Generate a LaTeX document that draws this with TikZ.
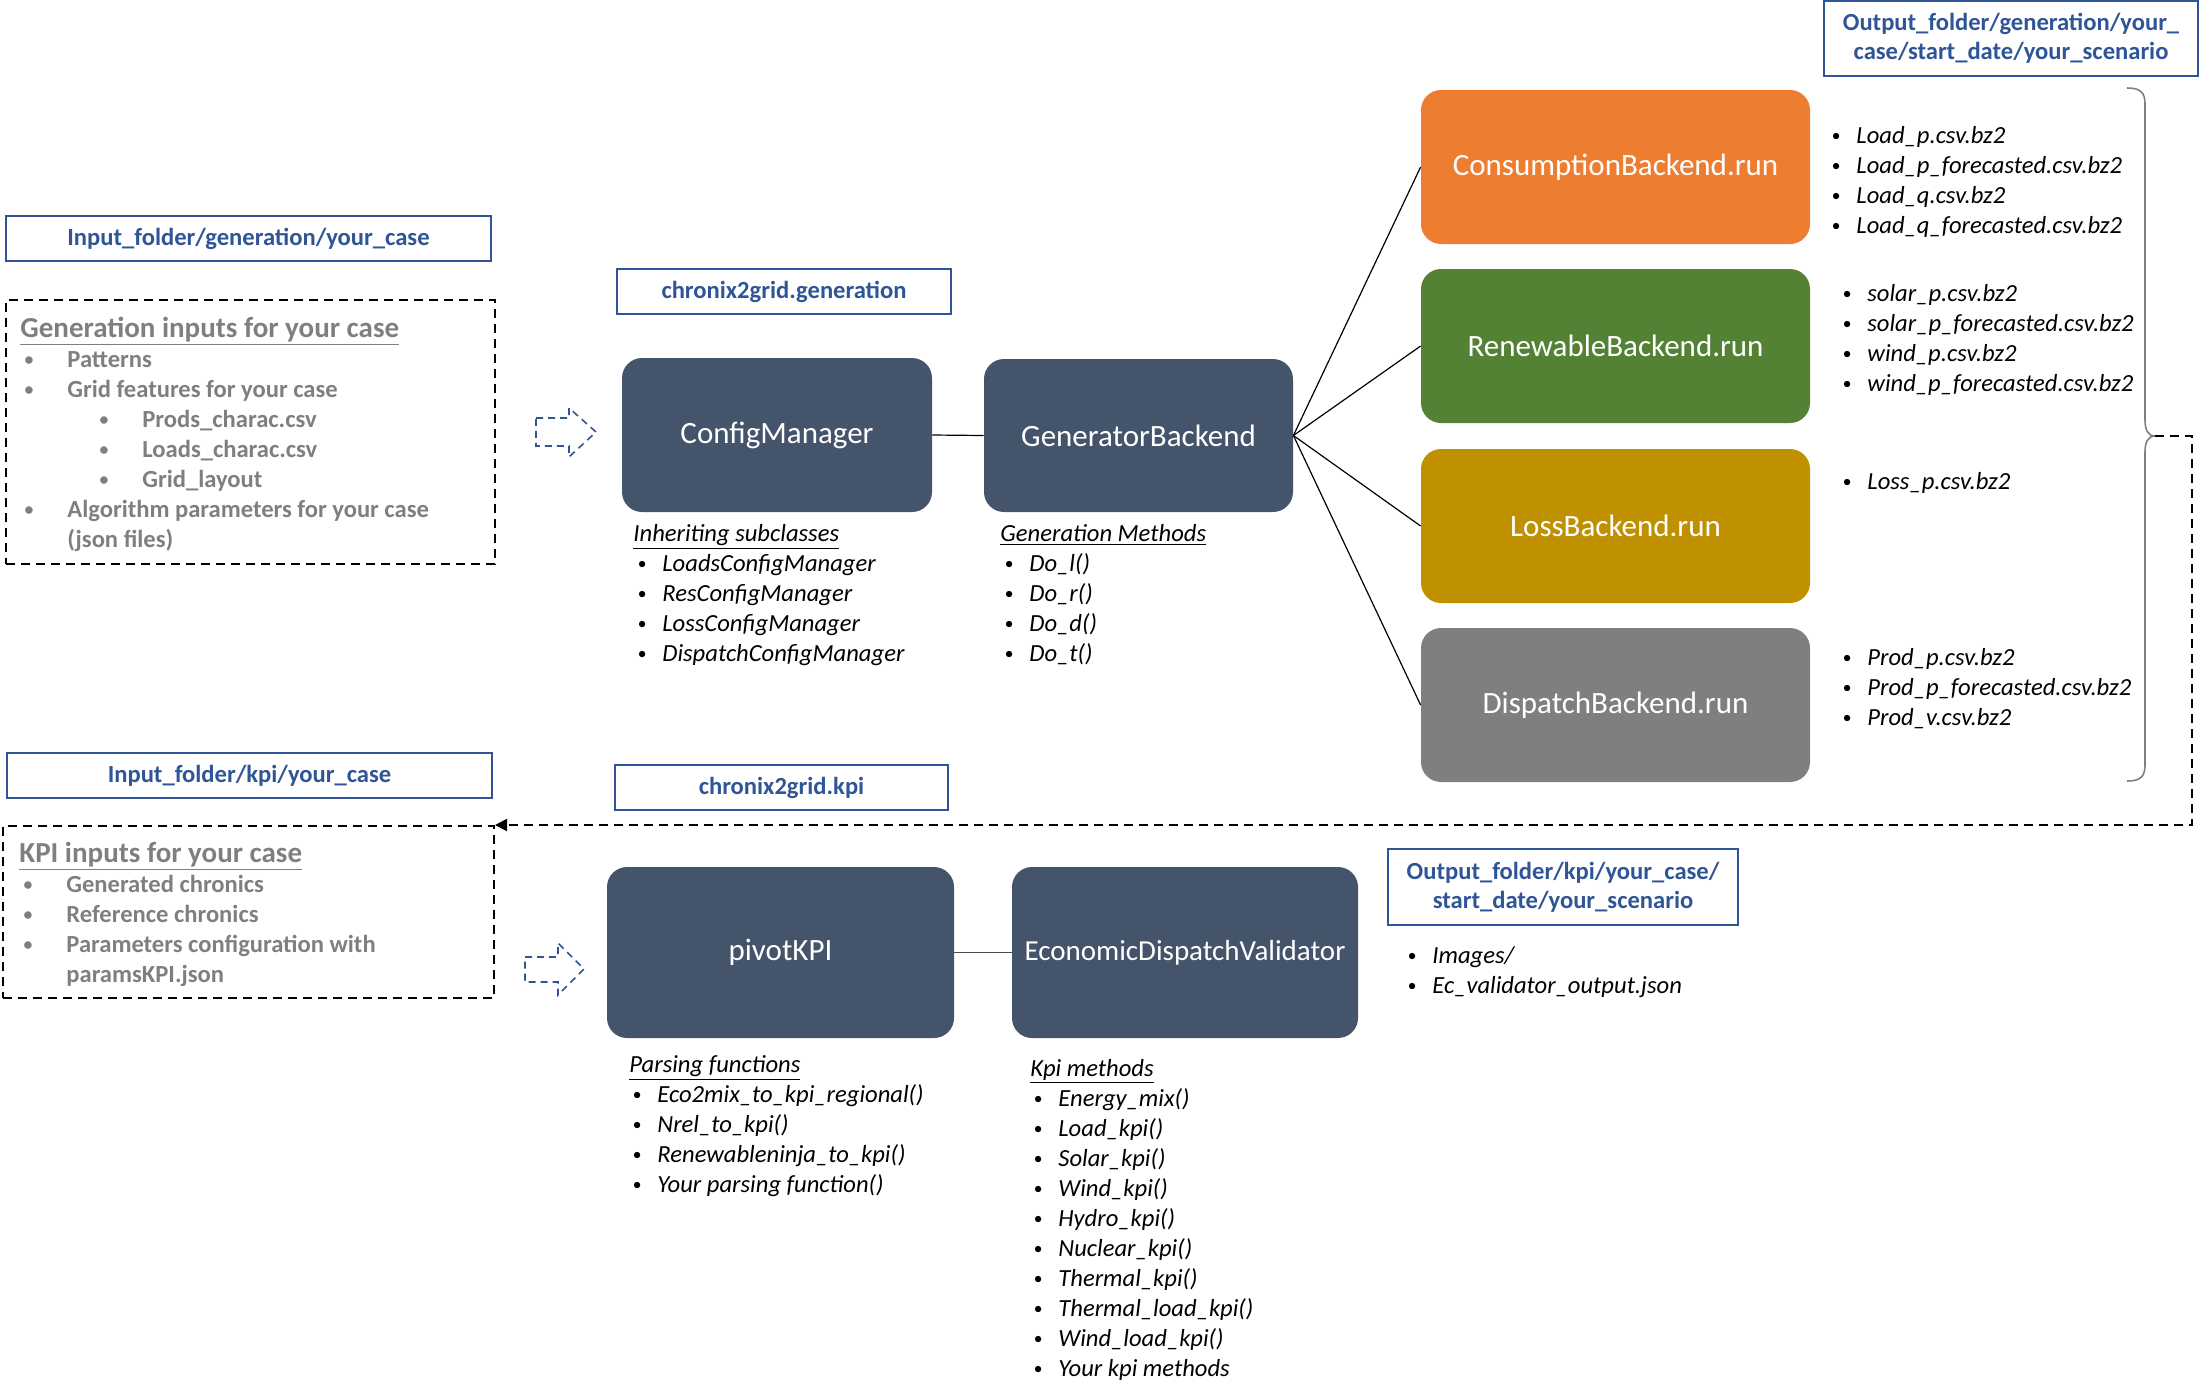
\documentclass[tikz,border=0pt]{standalone}
\usepackage{fontspec}
\usepackage{graphicx}
\setmainfont{Carlito}
\usetikzlibrary{arrows.meta}
\definecolor{slate}{HTML}{44546A}
\definecolor{cblue}{HTML}{2F5597}
\definecolor{corange}{HTML}{ED7D31}
\definecolor{cgreen}{HTML}{548235}
\definecolor{cgold}{HTML}{BF9000}
\definecolor{cgraybox}{HTML}{7F7F7F}
\definecolor{cgray}{HTML}{7F7F7F}
\definecolor{cbrace}{HTML}{7F7F7F}
\newcommand\bu[1][8pt]{\llap{\raisebox{0.12ex}{\scalebox{0.72}{\textbullet}}\hspace{#1}}}
\begin{document}
\begin{tikzpicture}[x=0.5pt,y=-0.5pt,
  bluebox/.style={draw=cblue, line width=1.2pt, text=cblue, font=\bfseries\fontsize{12.3}{14.5}\selectfont, inner sep=0pt, align=center},
  dbox/.style={draw=black, line width=1pt, dash pattern=on 4.5pt off 3pt, inner sep=0pt},
  bigbox/.style={rounded corners=10pt, text=white, font=\fontsize{15.5}{18}\selectfont, inner sep=0pt},
  lst/.style={anchor=base west, inner sep=0pt, font=\itshape\fontsize{12.3}{15}\selectfont},
  glst/.style={anchor=base west, inner sep=0pt, text=cgray, font=\bfseries\fontsize{12.3}{15}\selectfont},
  ghead/.style={anchor=base west, inner sep=0pt, text=cgray, font=\bfseries\fontsize{14.5}{17}\selectfont},
  conn/.style={line width=0.6pt},
  barrow/.style={draw=cblue, line width=0.8pt, dash pattern=on 3.5pt off 2.5pt}
]
\useasboundingbox (0,0) rectangle (2200,1399);

% ---------- generation part ----------
\node[bluebox, minimum width=242.5pt, minimum height=22.5pt] (inGen) at (248.5,238.5) {Input\_folder/generation/your\_case};
\node[dbox, minimum width=244.5pt, minimum height=132pt] (genIn) at (250.5,432) {};
\node[ghead] (gh) at (20,337.5) {\underline{Generation inputs for your case}};
\node[glst] (g1) at (67,367) {\bu[17pt]Patterns};
\node[glst] (g2) at (67,397) {\bu[17pt]Grid features for your case};
\node[glst] (g3) at (142,427) {\bu[17pt]Prods\_charac.csv};
\node[glst] (g4) at (142,457) {\bu[17pt]Loads\_charac.csv};
\node[glst] (g5) at (142,487) {\bu[17pt]Grid\_layout};
\node[glst] (g6) at (67,517) {\bu[17pt]Algorithm parameters for your case};
\node[glst] (g7) at (67,547) {(json files)};

\draw[barrow] (536,418) -- (569,418) -- (569,408) -- (596,432) -- (569,457) -- (569,446) -- (536,446) -- cycle;

\node[bluebox, minimum width=167pt, minimum height=22.5pt] (chronGen) at (784,291.5) {chronix2grid.generation};
\node[bigbox, fill=slate, minimum width=155pt, minimum height=77pt] (cfg) at (777,435) {ConfigManager};
\node[bigbox, fill=slate, minimum width=154.5pt, minimum height=76.5pt] (gb) at (1138.5,435.5) {GeneratorBackend};
\draw[conn] (cfg.east) -- (gb.west);

\node[lst] (inh) at (633,541) {\underline{Inheriting subclasses}};
\foreach \t [count=\i from 0] in {LoadsConfigManager, ResConfigManager, LossConfigManager, DispatchConfigManager}
  \node[lst] (inh\i) at (662,{571+30*\i}) {\bu\t};
\node[lst] (gm) at (1000,541) {\underline{Generation Methods}};
\foreach \t [count=\i from 0] in {Do\_l(), Do\_r(), Do\_d(), Do\_t()}
  \node[lst] (gm\i) at (1029,{571+30*\i}) {\bu\t};

\node[bigbox, fill=corange, minimum width=194.5pt, minimum height=77pt] (cons) at (1615.5,167) {ConsumptionBackend.run};
\node[bigbox, fill=cgreen, minimum width=194.5pt, minimum height=77pt] (ren) at (1615.5,346) {RenewableBackend.run};
\node[bigbox, fill=cgold, minimum width=194.5pt, minimum height=77pt] (loss) at (1615.5,526) {LossBackend.run};
\node[bigbox, fill=cgraybox, minimum width=194.5pt, minimum height=77pt] (disp) at (1615.5,705) {DispatchBackend.run};
\foreach \b in {cons,ren,loss,disp}
  \draw[conn] (gb.east) -- (\b.west);

\node[bluebox, minimum width=187pt, minimum height=37.5pt] (outGen) at (2011,38.5) {Output\_folder/generation/your\_\\case/start\_date/your\_scenario};

\foreach \t [count=\i from 0] in {Load\_p.csv.bz2, Load\_p\_forecasted.csv.bz2, Load\_q.csv.bz2, Load\_q\_forecasted.csv.bz2}
  \node[lst] (lo\i) at (1856,{143+30*\i}) {\bu\t};
\foreach \t [count=\i from 0] in {solar\_p.csv.bz2, solar\_p\_forecasted.csv.bz2, wind\_p.csv.bz2, wind\_p\_forecasted.csv.bz2}
  \node[lst] (re\i) at (1867,{301+30*\i}) {\bu\t};
\node[lst] (ls0) at (1867,489) {\bu Loss\_p.csv.bz2};
\foreach \t [count=\i from 0] in {Prod\_p.csv.bz2, Prod\_p\_forecasted.csv.bz2, Prod\_v.csv.bz2}
  \node[lst] (pr\i) at (1867,{665+30*\i}) {\bu\t};

% brace
\draw[cbrace, line width=0.8pt] (2127,88) .. controls (2140,88) and (2145,92) .. (2145,104) -- (2145,420) .. controls (2145,430) and (2148,436) .. (2155,436) .. controls (2148,436) and (2145,442) .. (2145,452) -- (2145,765) .. controls (2145,777) and (2140,781) .. (2127,781);
\coordinate (braceTip) at (2155,436);

% ---------- kpi part ----------
\node[bluebox, minimum width=242.5pt, minimum height=22.5pt] (inKpi) at (249.5,775.5) {Input\_folder/kpi/your\_case};
\node[bluebox, minimum width=166.5pt, minimum height=22.5pt] (chronKpi) at (781.5,787.5) {chronix2grid.kpi};
\node[dbox, minimum width=245.5pt, minimum height=86pt] (kpiIn) at (248.5,912) {};
\node[ghead] (kh) at (19,862) {\underline{KPI inputs for your case}};
\node[glst] (k1) at (66,892) {\bu[17pt]Generated chronics};
\node[glst] (k2) at (66,922) {\bu[17pt]Reference chronics};
\node[glst] (k3) at (66,952) {\bu[17pt]Parameters configuration with};
\node[glst] (k4) at (66,982) {paramsKPI.json};

\draw[line width=1pt, dash pattern=on 4.5pt off 3pt, -{Triangle[length=6pt,width=6pt]}] (braceTip) -- (2192,436) |- (kpiIn.north east);

\draw[barrow] (525,957) -- (558,957) -- (558,943) -- (584,969) -- (558,995) -- (558,982) -- (525,982) -- cycle;

\node[bigbox, fill=slate, minimum width=173.5pt, minimum height=85.5pt] (pivot) at (780.5,952.5) {pivotKPI};
\node[bigbox, fill=slate, minimum width=173pt, minimum height=85.5pt, font=\fontsize{14.5}{17}\selectfont] (edv) at (1185,952.5) {EconomicDispatchValidator};
\draw[conn, draw=black!70] (pivot.east) -- (edv.west);

\node[bluebox, minimum width=175pt, minimum height=38pt] (outKpi) at (1563,887) {Output\_folder/kpi/your\_case/\\start\_date/your\_scenario};
\node[lst] (ok0) at (1432,963) {\bu Images/};
\node[lst] (ok1) at (1432,993) {\bu Ec\_validator\_output.json};

\node[lst] (pf) at (629,1072) {\underline{Parsing functions}};
\foreach \t [count=\i from 0] in {Eco2mix\_to\_kpi\_regional(), Nrel\_to\_kpi(), Renewableninja\_to\_kpi(), Your parsing function()}
  \node[lst] (pf\i) at (657,{1102+30*\i}) {\bu\t};
\node[lst] (km) at (1030,1076) {\underline{Kpi methods}};
\foreach \t [count=\i from 0] in {Energy\_mix(), Load\_kpi(), Solar\_kpi(), Wind\_kpi(), Hydro\_kpi(), Nuclear\_kpi(), Thermal\_kpi(), Thermal\_load\_kpi(), Wind\_load\_kpi(), Your kpi methods}
  \node[lst] (km\i) at (1058,{1106+30*\i}) {\bu\t};
\end{tikzpicture}
\end{document}
